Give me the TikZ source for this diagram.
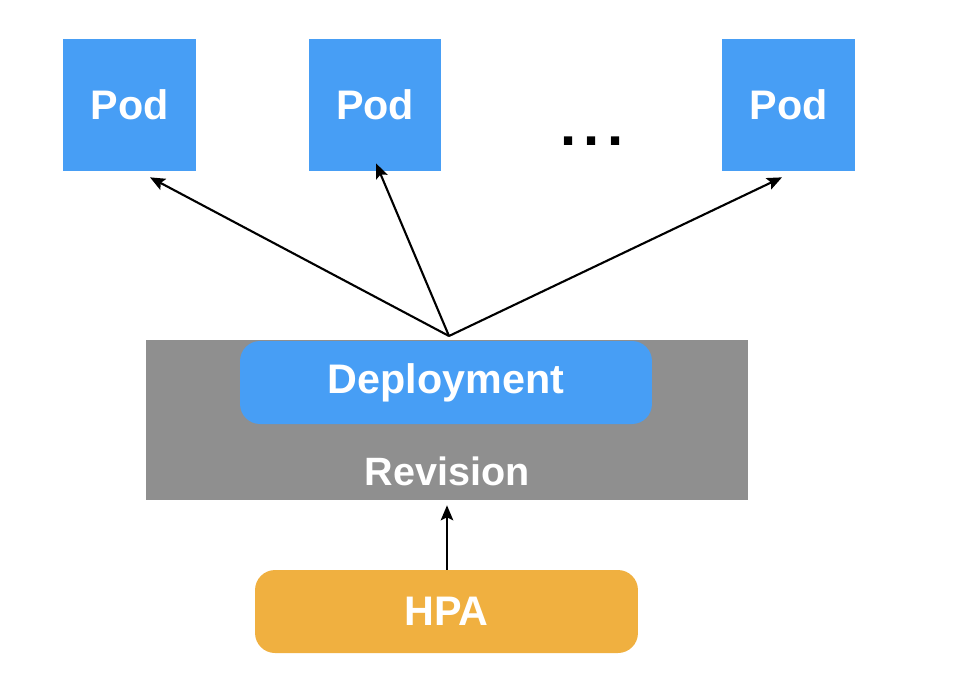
\documentclass[tikz,border=0pt]{standalone}
\usepackage{fontspec}
\setmainfont{Liberation Sans}
\usepackage{tikz}
\usetikzlibrary{arrows.meta,positioning,calc}
\definecolor{podblue}{HTML}{479EF5}
\definecolor{revgray}{HTML}{8F8F8F}
\definecolor{hpaamber}{HTML}{F0B040}
\tikzset{
  >={Stealth[length=3mm,width=2.5mm,inset=.6mm]},
  podbox/.style={fill=podblue, text=white, minimum width=2.66cm, minimum height=2.64cm, inner sep=0pt, font=\bfseries\fontsize{23.5}{28}\selectfont},
  pill/.style={rounded corners=4mm, text=white, minimum height=1.66cm, inner sep=0pt, font=\bfseries\fontsize{23.5}{28}\selectfont},
  flow/.style={->, line width=1.2pt, color=black}
}
\begin{document}
\begin{tikzpicture}[x=.02cm,y=-.02cm]
  \useasboundingbox (0,0) rectangle (970,684);
  \node[podbox] (pod1) at (129.5,105) {Pod};
  \node[podbox] (pod2) at (375,105) {Pod};
  \node[podbox] (pod3) at (788.5,105) {Pod};
  \node[anchor=base,font=\bfseries\fontsize{33}{36}\selectfont] (dots) at (592,145) {.\kern4.4pt.\kern4.4pt.};

  \node[fill=revgray,minimum width=12.04cm,minimum height=3.2cm,inner sep=0pt] (rev) at (447,420) {};
  \node[pill,fill=podblue,minimum width=8.24cm] (deploy) at (446,382.5) {Deployment};
  \node[anchor=base,text=white,font=\bfseries\fontsize{22.5}{28}\selectfont] (revtxt) at (447,485) {Revision};
  \node[pill,fill=hpaamber,minimum width=7.66cm] (hpa) at (446.5,611.5) {HPA};

  \coordinate (fork) at (449,336);
  \draw[flow] (fork) -- ([xshift=.41cm,yshift=-.12cm]pod1.south);
  \draw[flow] (fork) -- ([xshift=.02cm,yshift=.16cm]pod2.south);
  \draw[flow] (fork) -- ([xshift=-.13cm,yshift=-.12cm]pod3.south);
  \draw[flow] (hpa.north -| rev.south) -- ([yshift=-.1cm]rev.south);
\end{tikzpicture}
\end{document}
